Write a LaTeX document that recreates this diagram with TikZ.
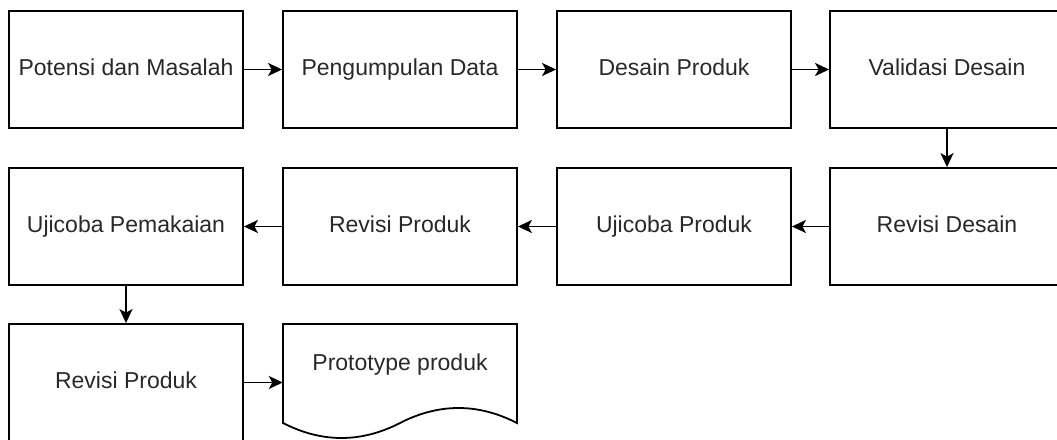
\documentclass[tikz,border=0pt]{standalone}
\usepackage{fontspec}
\setmainfont{Liberation Sans}
\usetikzlibrary{arrows.meta}
\definecolor{txt}{RGB}{40,40,40}
\tikzset{
  lbl/.style={text=txt, font=\fontsize{23}{27}\selectfont, text height=16.5pt, text depth=4.8pt},
  stepbox/.style={lbl, draw=black, line width=1.8pt, minimum width=234pt, minimum height=117pt, inner sep=0pt},
  conn/.style={draw=black, line width=1.8pt, -{Stealth[length=14pt, width=13pt, inset=3.5pt]}}
}
\begin{document}
\begin{tikzpicture}[x=1pt, y=-1pt]
\useasboundingbox (0,0) rectangle (1057,439);
\clip (0,0) rectangle (1057,439);
% row 1
\node[stepbox] (b1) at (126,69.5) {Potensi dan Masalah};
\node[stepbox] (b2) at (400,69.5) {Pengumpulan Data};
\node[stepbox] (b3) at (674,69.5) {Desain Produk};
\node[stepbox] (b4) at (947,69.5) {Validasi Desain};
% row 2
\node[stepbox] (c4) at (947,226.5) {Revisi Desain};
\node[stepbox] (c3) at (674,226.5) {Ujicoba Produk};
\node[stepbox] (c2) at (400,226.5) {Revisi Produk};
\node[stepbox] (c1) at (126,226.5) {Ujicoba Pemakaian};
% row 3
\node[stepbox] (d1) at (126,382.5) {Revisi Produk};
\node[minimum width=234pt, minimum height=117pt, inner sep=0pt] (proto) at (400,382.5) {};
\draw[line width=1.8pt] (283,324) -- (517,324) -- (517,423)
  .. controls (478,403) and (439,403) .. (400,423)
  .. controls (361,443) and (322,443) .. (283,423) -- cycle;
\node[lbl] (ptext) at (400,365) {Prototype produk};
% connectors
\draw[conn] (b1) -- (b2);
\draw[conn] (b2) -- (b3);
\draw[conn] (b3) -- (b4);
\draw[conn] (b4) -- (c4);
\draw[conn] (c4) -- (c3);
\draw[conn] (c3) -- (c2);
\draw[conn] (c2) -- (c1);
\draw[conn] (c1) -- (d1);
\draw[conn] (d1) -- (proto);
\end{tikzpicture}
\end{document}
